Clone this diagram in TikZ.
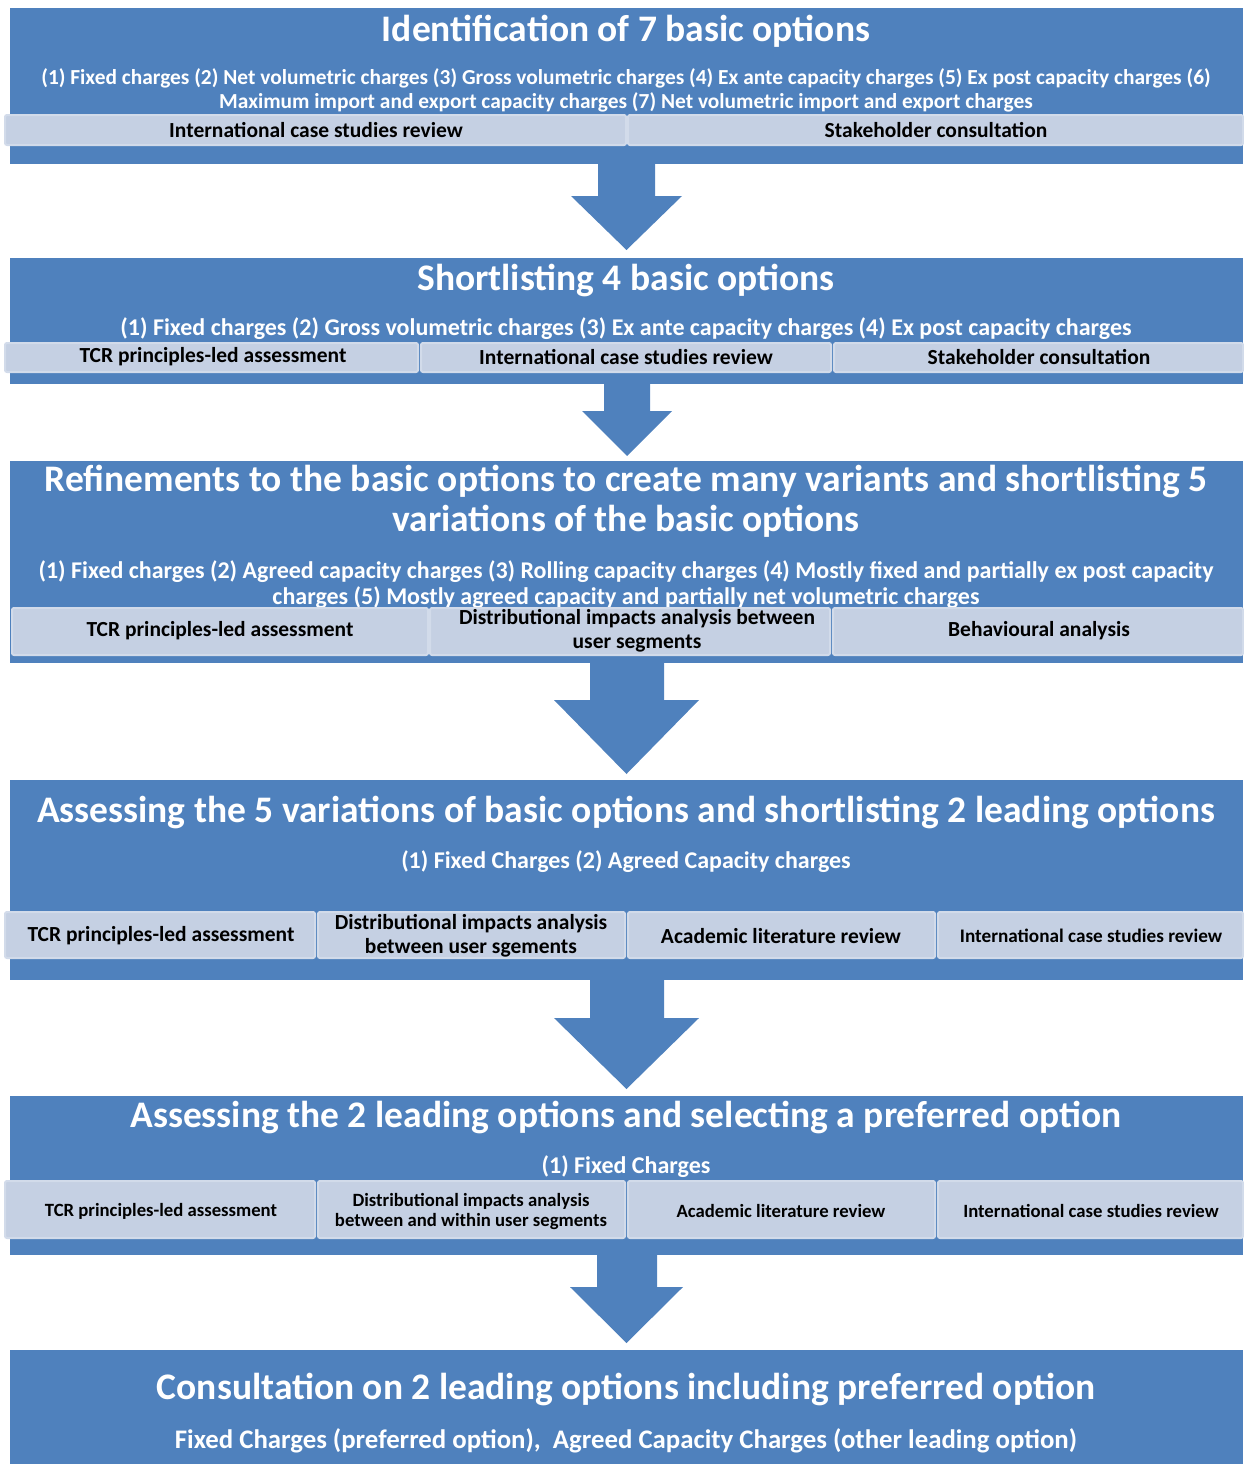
\documentclass[tikz,border=0pt]{standalone}
\usepackage{fontspec}
\setmainfont{Carlito}
\definecolor{mainblue}{HTML}{4F81BD}
\definecolor{subfill}{HTML}{C5D0E3}
\definecolor{subline}{HTML}{D2DBEA}
\newcommand{\fs}[2]{\fontsize{#1}{#2}\selectfont}
\newcommand{\blockarrow}[7]{%
  \fill[mainblue] (#2,#1) -- (#3,#1) -- (#3,#4) -- (#6,#4) -- ({(#5+#6)/2},#7) -- (#5,#4) -- (#2,#4) -- cycle;}
\tikzset{
  mainbox/.style={fill=mainblue, draw=none},
  subbox/.style={fill=subfill, draw=subline, line width=2pt, rounded corners=2pt},
  ttl/.style={text=white, font=\bfseries\fs{37.5}{40}, inner sep=0pt, align=center},
  body/.style={text=white, font=\bfseries\fs{24}{26}, inner sep=0pt, align=center},
  subt/.style={text=black, font=\bfseries\fs{21.5}{23.5}, inner sep=0pt, align=center},
  subs/.style={text=black, font=\bfseries\fs{18.7}{20}, inner sep=0pt, align=center},
}
\begin{document}
\begin{tikzpicture}[x=1pt,y=-1pt]
\useasboundingbox (0,0) rectangle (1243,1464);
% ---------- Box 1
\fill[mainbox] (10,8) rectangle (1243,164);
\node[ttl] (t1) at (626,31) {Identification of 7 basic options};
\node[body, font=\bfseries\fs{21.4}{24}] (l1a) at (626,78) {(1) Fixed charges (2) Net volumetric charges (3) Gross volumetric charges (4) Ex ante capacity charges (5) Ex post capacity charges (6)};
\node[body, font=\bfseries\fs{21.4}{24}] (l1b) at (626,102) {Maximum import and export capacity charges (7) Net volumetric import and export charges};
\draw[subbox] (5,115) rectangle (626,145);
\draw[subbox] (628,115) rectangle (1243,145);
\node[subt] (s11) at (316,130) {International case studies review};
\node[subt] (s12) at (936,130) {Stakeholder consultation};
\blockarrow{164}{598}{655}{196}{571}{682}{250}
% ---------- Box 2
\fill[mainbox] (10,258) rectangle (1243,384);
\node[ttl] (t2) at (626,280) {Shortlisting 4 basic options};
\node[body] (l2) at (626,329) {(1) Fixed charges (2) Gross volumetric charges (3) Ex ante capacity charges (4) Ex post capacity charges};
\draw[subbox] (5,343) rectangle (418,372);
\draw[subbox] (421,343) rectangle (831,372);
\draw[subbox] (834,343) rectangle (1243,372);
\node[subt] (s21) at (213,357) {TCR principles-led assessment};
\node[subt] (s22) at (626,357) {International case studies review};
\node[subt] (s23) at (1039,357) {Stakeholder consultation};
\blockarrow{383}{604}{650}{411}{582}{672}{456}
% ---------- Box 3
\fill[mainbox] (10,461) rectangle (1243,663);
\node[ttl] (t3a) at (626,481) {Refinements to the basic options to create many variants and shortlisting 5};
\node[ttl] (t3b) at (626,521) {variations of the basic options};
\node[body] (l3a) at (626,572) {(1) Fixed charges (2) Agreed capacity charges (3) Rolling capacity charges (4) Mostly fixed and partially ex post capacity};
\node[body] (l3b) at (626,598) {charges (5) Mostly agreed capacity and partially net volumetric charges};
\draw[subbox] (12,608) rectangle (428,655);
\draw[subbox] (430,608) rectangle (830,655);
\draw[subbox] (833,608) rectangle (1243,655);
\node[subt] (s31) at (220,631) {TCR principles-led assessment};
\node[subt] (s32) at (637,631) {Distributional impacts analysis between\\user segments};
\node[subt] (s33) at (1039,631) {Behavioural analysis};
\blockarrow{663}{590}{664}{700}{554}{699}{774}
% ---------- Box 4
\fill[mainbox] (10,780) rectangle (1243,980);
\node[ttl] (t4) at (626,812) {Assessing the 5 variations of basic options and shortlisting 2 leading options};
\node[body] (l4) at (626,862) {(1) Fixed Charges (2) Agreed Capacity charges};
\draw[subbox] (5,912) rectangle (315,958);
\draw[subbox] (318,912) rectangle (625,958);
\draw[subbox] (628,912) rectangle (935,958);
\draw[subbox] (938,912) rectangle (1243,958);
\node[subt] (s41) at (161,936) {TCR principles-led assessment};
\node[subt, font=\bfseries\fs{21.5}{24}] (s42) at (471,936) {Distributional impacts analysis\\between user sgements};
\node[subt] (s43) at (781,936) {Academic literature review};
\node[subt, font=\bfseries\fs{19.2}{21}] (s44) at (1091,936) {International case studies review};
\blockarrow{980}{590}{664}{1018}{554}{699}{1089}
% ---------- Box 5
\fill[mainbox] (10,1096) rectangle (1243,1255);
\node[ttl] (t5) at (626,1117) {Assessing the 2 leading options and selecting a preferred option};
\node[body] (l5) at (626,1167) {(1) Fixed Charges};
\draw[subbox] (5,1181) rectangle (315,1238);
\draw[subbox] (318,1181) rectangle (625,1238);
\draw[subbox] (628,1181) rectangle (935,1238);
\draw[subbox] (938,1181) rectangle (1243,1238);
\node[subs] (s51) at (161,1211) {TCR principles-led assessment};
\node[subs] (s52) at (471,1211) {Distributional impacts analysis\\between and within user segments};
\node[subs] (s53) at (781,1211) {Academic literature review};
\node[subs] (s54) at (1091,1211) {International case studies review};
\blockarrow{1255}{597}{657}{1287}{570}{683}{1343}
% ---------- Box 6
\fill[mainbox] (10,1350) rectangle (1243,1464);
\node[ttl] (t6) at (626,1389) {Consultation on 2 leading options including preferred option};
\node[body, font=\bfseries\fs{26.8}{28}] (l6) at (626,1441) {Fixed Charges (preferred option),\ \ Agreed Capacity Charges (other leading option)};
\end{tikzpicture}
\end{document}
